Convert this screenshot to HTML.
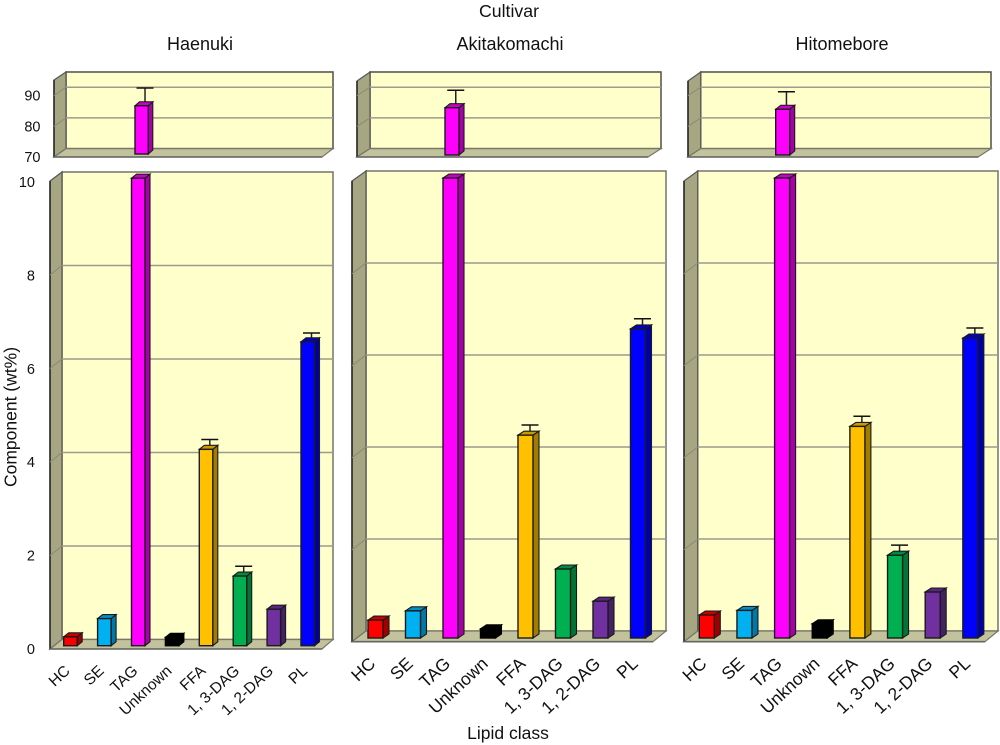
<!DOCTYPE html>
<html>
<head>
<meta charset="utf-8">
<style>
html,body{margin:0;padding:0;background:#fff;}
svg{display:block;}
text{font-family:"Liberation Sans",sans-serif;fill:#111;}
</style>
</head>
<body>
<svg id="chart" xmlns="http://www.w3.org/2000/svg" width="1000" height="745" viewBox="0 0 1000 745">
<text x="509" y="17" font-size="17.7" text-anchor="middle">Cultivar</text>
<text x="200" y="50" font-size="18" text-anchor="middle">Haenuki</text>
<text x="510" y="50" font-size="18" text-anchor="middle">Akitakomachi</text>
<text x="842" y="50" font-size="18" text-anchor="middle">Hitomebore</text>
<text x="0" y="0" font-size="17.5" text-anchor="middle" transform="translate(16.5,417) rotate(-90)">Component (wt%)</text>
<text x="508" y="739" font-size="17.5" text-anchor="middle">Lipid class</text>
</svg>
<script>
var categories = ["HC", "SE", "TAG", "Unknown", "FFA", "1, 3-DAG", "1, 2-DAG", "PL"];
var haenukiValues = [0.19, 0.58, 85.7, 0.18, 4.2, 1.49, 0.78, 6.5];
var haenukiErrors = [0, 0, 5.8, 0, 0.21, 0.21, 0, 0.19];
var akitakomachiValues = [0.39, 0.59, 85.4, 0.2, 4.41, 1.5, 0.8, 6.72];
var akitakomachiErrors = [0, 0, 5.7, 0, 0.22, 0, 0, 0.22];
var hitomeboreValues = [0.5, 0.6, 84.9, 0.31, 4.6, 1.8, 1.0, 6.52];
var hitomeboreErrors = [0, 0, 5.7, 0, 0.22, 0.22, 0, 0.22];
var lowerTicks = [0, 2, 4, 6, 8, 10];
var upperTicks = [70, 80, 90];

var faceColors = [
  ["#ff0000", "#a00000", "#cc0000"],
  ["#00b0f0", "#0078a8", "#0090c8"],
  ["#ff00ff", "#a800a8", "#cc00cc"],
  ["#000000", "#000000", "#000000"],
  ["#ffc000", "#a07c00", "#cc9a00"],
  ["#00b050", "#007535", "#008c40"],
  ["#7030a0", "#452065", "#5a2680"],
  ["#0000ff", "#0000a8", "#0000cc"]
];

var svg = document.getElementById('chart');
var NS = 'http://www.w3.org/2000/svg';

function shape(tag, attrs, parent) {
  var el = document.createElementNS(NS, tag);
  for (var k in attrs) el.setAttribute(k, attrs[k]);
  (parent || svg).appendChild(el);
  return el;
}
function pts(list) {
  return list.map(function (p) { return p[0] + ',' + p[1]; }).join(' ');
}

function drawFrame(p, ticks, yBack, name, edge) {
  var g = shape('g', {});
  
  
  var back = shape('rect', {x: p.bl, y: p.topBack, width: p.br - p.bl, height: p.floorBack - p.topBack, fill: '#ffffcc', stroke: edge, 'stroke-width': 1.6}, g);
  
  
  var side = shape('polygon', {points: pts([[p.fl, p.topFront], [p.bl, p.topBack], [p.bl, p.floorBack], [p.fl, p.floorFront]]), fill: '#a6a682', stroke: '#555', 'stroke-width': 1.2}, g);
  
  
  var floor = shape('polygon', {points: pts([[p.fl, p.floorFront], [p.bl, p.floorBack], [p.br, p.floorBack], [p.fr, p.floorFront]]), fill: '#c2c29c', stroke: '#77776a', 'stroke-width': 1.2}, g);
  
  
  shape('line', {x1: p.fl, y1: p.topFront, x2: p.fl, y2: p.floorFront, stroke: '#222', 'stroke-width': 1.5}, g);
  shape('line', {x1: p.fl, y1: p.floorFront, x2: p.fr, y2: p.floorFront, stroke: '#666', 'stroke-width': 1.6}, g);
  ticks.forEach(function (t) {
    var y = yBack(t);
    if (y > p.floorBack - 2 || y < p.topBack + 2) return;
    var grid = shape('line', {x1: p.bl, y1: y, x2: p.br, y2: y, stroke: '#9c9c8c', 'stroke-width': 1.5}, g);
    
    
    shape('line', {x1: p.fl, y1: y + (p.floorFront - p.floorBack), x2: p.bl, y2: y, stroke: '#8a8a78', 'stroke-width': 1}, g);
  });
}

function drawBar(p, i, value, err, yFront, name, clipTop) {
  var x = p.firstBar + p.step * i;
  var w = p.barW, dx = p.dx, dy = p.dy;
  var base = yFront(p.min);
  var top = yFront(Math.min(value, p.max));
  var c = faceColors[i];
  var g = shape('g', {});
  
  
  if (err > 0 && !clipTop) {
    var capY = yFront(value + err);
    var cx = x + w / 2 + dx * 0.75;
    var stem = shape('line', {x1: cx, y1: top - dy / 2, x2: cx, y2: capY, stroke: '#222', 'stroke-width': 1.5}, g);
    
    
    var cap = shape('line', {x1: cx - 8.5, y1: capY, x2: cx + 8.5, y2: capY, stroke: '#111', 'stroke-width': 1.5}, g);
    
    
  }
  var sc = (i === 3) ? '#000' : '#1a1a1a';
  shape('polygon', {points: pts([[x + w, top], [x + w + dx, top - dy], [x + w + dx, base - dy], [x + w, base]]), fill: c[1], stroke: sc, 'stroke-width': 1.1}, g);
  shape('polygon', {points: pts([[x, top], [x + dx, top - dy], [x + w + dx, top - dy], [x + w, top]]), fill: c[2], stroke: sc, 'stroke-width': 1.1}, g);
  shape('rect', {x: x, y: top, width: w, height: base - top, fill: c[0], stroke: sc, 'stroke-width': 1.4}, g);
}

function drawPanel(name, lower, upper, values, errors, labelSize, labelDx, labelY) {
  var yBackLow = function (v) { return lower.floorBack - lower.unit * v; };
  var yFrontLow = function (v) { return lower.barBase - lower.unit * v; };
  var yBackUp = function (v) { return upper.floorBack - upper.unit * (v - upper.min); };
  var yFrontUp = function (v) { return upper.barBase - upper.unit * (v - upper.min); };

  drawFrame(upper, upperTicks, yBackUp, name + '-upper', '#5a5a50');
  drawFrame(lower, lowerTicks, yBackLow, name + '-lower', '#7c7c72');

  values.forEach(function (v, i) {
    if (v > upper.min) {
      var up = {firstBar: upper.firstBar, step: 0, barW: upper.barW, dx: upper.dx, dy: upper.dy, min: upper.min, max: upper.max};
      drawBar(up, i, v, errors[i], yFrontUp, name + '-upper-bar-' + categories[i].toLowerCase().replace(/[^a-z0-9]+/g, '-'), false);
    }
    drawBar(lower, i, v, errors[i], yFrontLow, name + '-bar-' + categories[i].toLowerCase().replace(/[^a-z0-9]+/g, '-'), v > lower.max);
  });

  categories.forEach(function (c, i) {
    var ax = lower.firstBar + lower.step * i + lower.barW / 2 + labelDx;
    var t = shape('text', {x: 0, y: 0, 'font-size': labelSize, 'text-anchor': 'end', transform: 'translate(' + ax + ',' + labelY + ') rotate(-43)'});
    
    
    t.textContent = c;
  });
}

drawPanel('haenuki',
  {fl: 50, bl: 62, br: 333, fr: 322, topBack: 172, topFront: 181, floorBack: 639.5, floorFront: 649, barBase: 645.7, unit: 46.75, min: 0, max: 10, firstBar: 63.7, step: 33.9, barW: 13.5, dx: 5, dy: 4},
  {fl: 54, bl: 66, br: 333, fr: 322, topBack: 72, topFront: 80, floorBack: 148.6, floorFront: 157, barBase: 154, unit: 3.07, min: 70, max: 100, firstBar: 135, barW: 13.3, dx: 4.5, dy: 4},
  haenukiValues, haenukiErrors, 15.5, 0.5, 672);

drawPanel('akitakomachi',
  {fl: 352, bl: 366, br: 666, fr: 653, topBack: 171, topFront: 181, floorBack: 631, floorFront: 641.7, barBase: 638, unit: 46, min: 0, max: 10, firstBar: 368, step: 37.5, barW: 15, dx: 6, dy: 4},
  {fl: 357, bl: 370, br: 661, fr: 648, topBack: 72, topFront: 81, floorBack: 148.6, floorFront: 157, barBase: 155, unit: 3.07, min: 70, max: 100, firstBar: 445, barW: 14, dx: 5, dy: 4},
  akitakomachiValues, akitakomachiErrors, 17.5, 1, 665);

drawPanel('hitomebore',
  {fl: 684, bl: 697.7, br: 998, fr: 985, topBack: 171, topFront: 181, floorBack: 631, floorFront: 641.7, barBase: 638, unit: 46, min: 0, max: 10, firstBar: 699.3, step: 37.65, barW: 15, dx: 6, dy: 4},
  {fl: 688, bl: 700.7, br: 991, fr: 978, topBack: 72, topFront: 81, floorBack: 148.6, floorFront: 157, barBase: 155, unit: 3.07, min: 70, max: 100, firstBar: 775.7, barW: 14, dx: 5, dy: 4},
  hitomeboreValues, hitomeboreErrors, 17.5, 1, 665);

lowerTicks.forEach(function (t) {
  var el = shape('text', {x: 35, y: 649 - 46.7 * t + 5, 'font-size': 14.5, 'text-anchor': 'end'});
  
  
  el.textContent = t;
});
upperTicks.forEach(function (t) {
  var el = shape('text', {x: 40.5, y: 157 - 3.07 * (t - 70) + 5, 'font-size': 14.5, 'text-anchor': 'end'});
  
  
  el.textContent = t;
});
</script>
</body>
</html>
